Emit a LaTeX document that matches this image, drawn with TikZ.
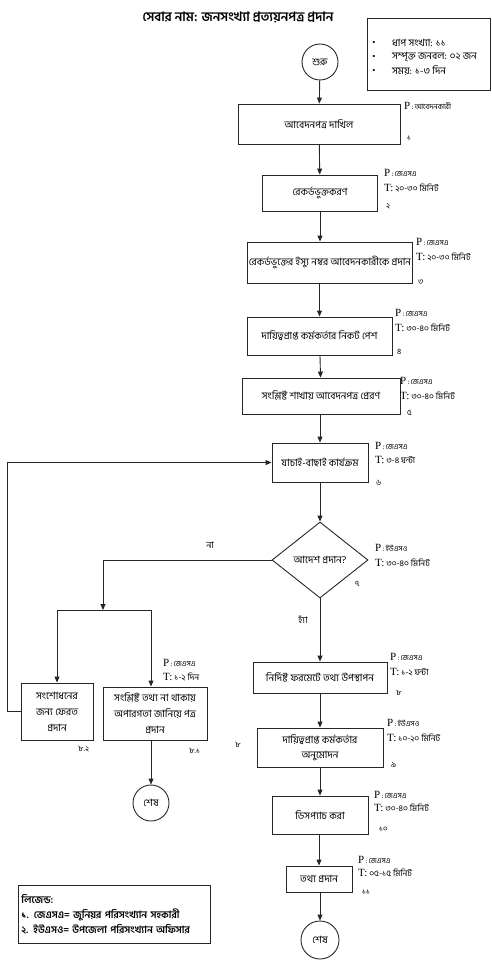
\documentclass[tikz,border=0pt]{standalone}
\usepackage{fontspec}
\setmainfont{Liberation Serif}
\newfontfamily\bn[Script=Bengali]{Hind Siliguri}
\usetikzlibrary{arrows.meta,shapes.geometric}
\newcommand{\plab}[1]{{\fontsize{11}{11}\selectfont P}{\bn\fontsize{7.5}{8}\selectfont\,:\,#1}}
\newcommand{\tlab}[1]{{\fontsize{11}{11}\selectfont T:\,}{\bn\fontsize{8.5}{9}\selectfont #1}}
\begin{document}
\begin{tikzpicture}[x=1pt,y=-1pt,
  box/.style={draw=black!85, line width=0.9pt, align=center, inner sep=1pt,
    font=\bn\fontsize{10}{13}\selectfont},
  circ/.style={draw=black!85, line width=0.9pt, circle, inner sep=0pt,
    font=\bn\fontsize{10}{11}\selectfont},
  ln/.style={line width=0.9pt, draw=black!85},
  arr/.style={ln, -{Triangle[length=6pt,width=5pt]}},
  lbl/.style={anchor=west, inner sep=0pt},
  num/.style={anchor=west, inner sep=0pt, font=\bn\fontsize{8}{9}\selectfont},
  txt/.style={inner sep=0pt, font=\bn\fontsize{10}{11}\selectfont}]
\useasboundingbox (0,0) rectangle (491,960);
% title
\node[inner sep=0pt, font=\bn\bfseries\fontsize{13}{15}\selectfont] (title) at (238,17) {সেবার নাম: জনসংখ্যা প্রত্যয়নপত্র প্রদান};
% info box
\node[draw=black!85, line width=0.9pt, anchor=north west, minimum width=123pt, minimum height=72pt, inner sep=0pt] (info) at (367,18) {};
\node[inner sep=0pt, font=\fontsize{9}{9}\selectfont] (bu1) at (374,43) {•};
\node[inner sep=0pt, font=\fontsize{9}{9}\selectfont] (bu2) at (374,57) {•};
\node[inner sep=0pt, font=\fontsize{9}{9}\selectfont] (bu3) at (374,71) {•};
\node[lbl, font=\bn\fontsize{10}{11}\selectfont] (i1) at (392,43) {ধাপ সংখ্যা: ১১};
\node[lbl, font=\bn\fontsize{10}{11}\selectfont] (i2) at (392,57) {সম্পৃক্ত জনবল: ০২ জন};
\node[lbl, font=\bn\fontsize{10}{11}\selectfont] (i3) at (392,71) {সময়: ১-৩ দিন};
% main flow
\node[circ, minimum size=36pt] (s) at (320,62) {শুরু};
\node[box, minimum width=162pt, minimum height=40pt] (b1) at (319,124) {আবেদনপত্র দাখিল};
\node[box, minimum width=115pt, minimum height=36pt] (b2) at (320,193) {রেকর্ডভুক্তকরণ};
\node[box, minimum width=164pt, minimum height=41pt] (b3) at (330,262.5) {রেকর্ডভুক্তের ইস্যু নম্বর আবেদনকারীকে প্রদান};
\node[box, minimum width=145pt, minimum height=38pt] (b4) at (319.5,336) {দায়িত্বপ্রাপ্ত কর্মকর্তার নিকট পেশ};
\node[box, minimum width=158pt, minimum height=36pt] (b5) at (321,396) {সংশ্লিষ্ট শাখায় আবেদনপত্র প্রেরণ};
\node[box, minimum width=96pt, minimum height=39pt] (b6) at (320,462.5) {যাচাই-বাছাই কার্যক্রম};
\node[draw=black!85, line width=0.9pt, diamond, minimum width=96pt, minimum height=76pt, inner sep=0pt] (d) at (320,560) {};
\node[txt] (dt) at (d.center) {আদেশ প্রদান?};
\node[box, minimum width=134pt, minimum height=31pt] (b8) at (320,677.5) {নির্দিষ্ট ফরমেটে তথ্য উপস্থাপন};
\node[box, minimum width=126pt, minimum height=39pt, font=\bn\fontsize{10}{15}\selectfont] (b9) at (320,747.5) {দায়িত্বপ্রাপ্ত কর্মকর্তার\\অনুমোদন};
\node[box, minimum width=96pt, minimum height=38pt] (b10) at (320,815) {ডিসপ্যাচ করা};
\node[box, minimum width=66pt, minimum height=26pt] (b11) at (319,879) {তথ্য প্রদান};
\node[circ, minimum size=38pt] (e2) at (320,940) {শেষ};
% left branch
\node[box, minimum width=72pt, minimum height=57pt, font=\bn\fontsize{10}{16}\selectfont] (b82) at (57,711.5) {সংশোধনের\\জন্য ফেরত\\প্রদান};
\node[box, minimum width=104pt, minimum height=53pt, font=\bn\fontsize{10}{16}\selectfont] (b81) at (155,713.5) {সংশ্লিষ্ট তথ্য না থাকায়\\অপারগতা জানিয়ে পত্র\\প্রদান};
\node[circ, minimum size=36pt] (e1) at (151,803) {শেষ};
% labels
\node[lbl] (p1) at (404,106) {\plab{আবেদনকারী}};
\node[num] (n1) at (407,138) {১};
\node[lbl] (p2) at (384,173) {\plab{জেএসএ}};
\node[lbl] (t2) at (384,188) {\tlab{২০-৩০ মিনিট}};
\node[num] (n2) at (386,206) {২};
\node[lbl] (p3) at (416,242) {\plab{জেএসএ}};
\node[lbl] (t3) at (416,257) {\tlab{২০-৩০ মিনিট}};
\node[num] (n3) at (418,282) {৩};
\node[lbl] (p4) at (395,313) {\plab{জেএসএ}};
\node[lbl] (t4) at (395,328) {\tlab{৩০-৪০ মিনিট}};
\node[num] (n4) at (397,352) {৪};
\node[lbl] (p5) at (400,381) {\plab{জেএসএ}};
\node[lbl] (t5) at (400,396) {\tlab{৩০-৪০ মিনিট}};
\node[num] (n5) at (407,413) {৫};
\node[lbl] (p6) at (375,446) {\plab{জেএসএ}};
\node[lbl] (t6) at (375,460) {\tlab{৩-৪ ঘন্টা}};
\node[num] (n6) at (376,483) {৬};
\node[lbl] (p7) at (375,548) {\plab{ইউএসও}};
\node[lbl] (t7) at (375,563) {\tlab{৩০-৪০ মিনিট}};
\node[num] (n7) at (355,584) {৭};
\node[lbl] (p81) at (163,663) {\plab{জেএসএ}};
\node[lbl] (t81) at (163,677) {\tlab{১-২ দিন}};
\node[num] (n81) at (189,751) {৮.১};
\node[num] (n82) at (78,749) {৮.২};
\node[num] (nx) at (235,745) {৮};
\node[lbl] (p8) at (390,657) {\plab{জেএসএ}};
\node[lbl] (t8) at (390,672) {\tlab{১-২ ঘন্টা}};
\node[num] (n8) at (396,693) {৮};
\node[lbl] (p9) at (387,723) {\plab{ইউএসও}};
\node[lbl] (t9) at (387,738) {\tlab{১০-২০ মিনিট}};
\node[num] (n9) at (391,765) {৯};
\node[lbl] (p10) at (374,795) {\plab{জেএসএ}};
\node[lbl] (t10) at (374,808) {\tlab{৩০-৪০ মিনিট}};
\node[num] (n10) at (379,829) {১০};
\node[lbl] (p11) at (358,860) {\plab{জেএসএ}};
\node[lbl] (t11) at (358,873) {\tlab{০৫-১৫ মিনিট}};
\node[num] (n11) at (362,892) {১১};
\node[txt, font=\bn\fontsize{9}{10}\selectfont] (no) at (210,545) {না};
\node[txt, font=\bn\fontsize{9}{10}\selectfont] (yes) at (303,620) {হ্যাঁ};
% legend
\node[draw=black!85, line width=0.9pt, anchor=north west, minimum width=192pt, minimum height=58pt, inner sep=3pt, align=left, text width=186pt, font=\bn\bfseries\fontsize{10}{15}\selectfont] (leg) at (18,885) {লিজেন্ড:\\১. জেএসএ= জুনিয়র পরিসংখ্যান সহকারী\\২. ইউএসও= উপজেলা পরিসংখ্যান অফিসার};
% connectors
\draw[arr] (s) -- (b1);
\draw[arr] (b1) -- (b2);
\draw[arr] (b2.south) -- (b2.south |- b3.north);
\draw[arr] (b4.north |- b3.south) -- (b4.north);
\draw[arr] (b4) -- (b5);
\draw[arr] (b6.north |- b5.south) -- (b6.north);
\draw[arr] (b6) -- (d);
\draw[arr] (d.south) -- (b8.north);
\draw[arr] (b8) -- (b9);
\draw[arr] (b9) -- (b10);
\draw[arr] (b10.south -| b11.north) -- (b11.north);
\draw[arr] (b11.south -| e2.north) -- (e2.north);
\coordinate (k1) at (103,560);
\coordinate (bm) at (103,610);
\coordinate (bl) at (57,610);
\coordinate (br) at (151,610);
\draw[ln] (d.west) -- (k1);
\draw[arr] (k1) -- (bm);
\draw[ln] (bl) -- (br);
\draw[arr] (bl) -- (bl |- b82.north);
\draw[arr] (br) -- (br |- b81.north);
\draw[arr] (e1.north |- b81.south) -- (e1.north);
\draw[arr] (b82.west) -- ++(-13,0) |- (b6.west);
\end{tikzpicture}
\end{document}
